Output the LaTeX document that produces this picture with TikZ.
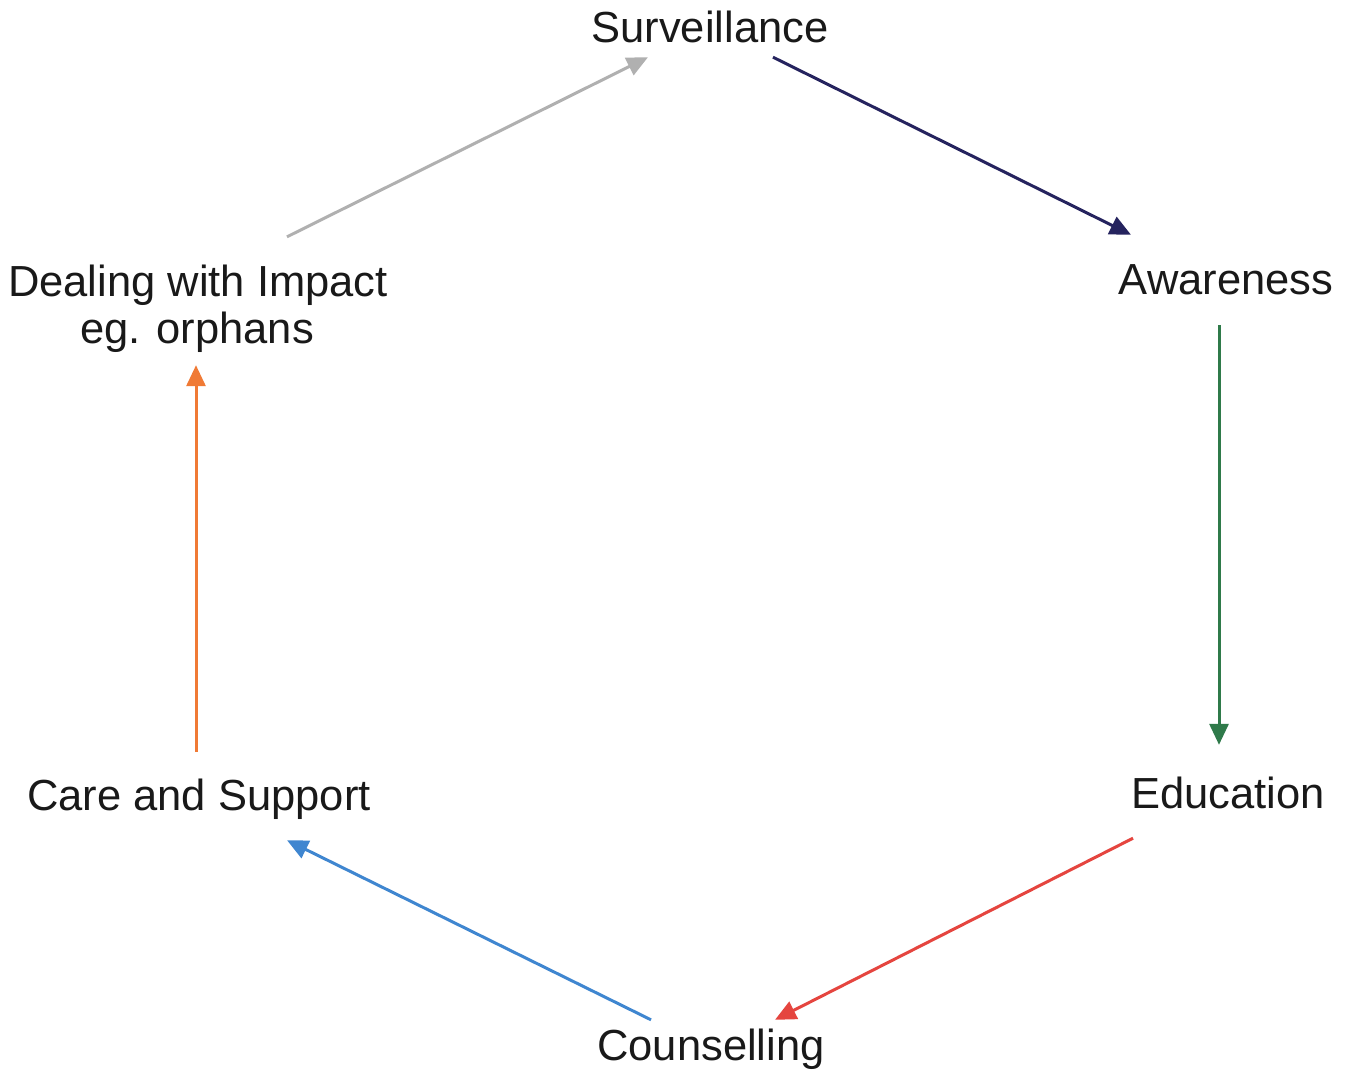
\documentclass[tikz,border=0pt]{standalone}
\usepackage{fontspec}
\setmainfont{Liberation Sans}
\usetikzlibrary{arrows.meta}
\definecolor{cgrey}{HTML}{B0B0B0}
\definecolor{cnavy}{HTML}{25235E}
\definecolor{cgreen}{HTML}{2F7A4A}
\definecolor{cred}{HTML}{E5453F}
\definecolor{cblue}{HTML}{3F86D0}
\definecolor{corange}{HTML}{F07A35}
\begin{document}
\begin{tikzpicture}[x=1pt,y=1pt,
  lbl/.style={inner sep=0pt, anchor=base, text height=31pt, text depth=9pt,
    font=\fontsize{43.5}{50}\selectfont, text=black!90},
  conn/.style={line width=3pt, -{Triangle[length=21pt,width=19pt]}}]
\useasboundingbox[fill=white] (0,-1071) rectangle (1352,0);
\node[lbl] (surv)  at (710,-42)   {Surveillance};
\node[lbl] (aware) at (1226,-294) {Awareness};
\node[lbl] (edu)   at (1228,-808) {Education};
\node[lbl] (couns) at (711,-1060) {Counselling};
\node[lbl] (care)  at (199,-810)  {Care and Support};
\node[lbl] (deal)  at (198,-296)  {Dealing with Impact};
\node[lbl] (orph)  at (197,-343)  {eg. orphans};
\draw[conn, cgrey]   ([shift={(89,28)}]deal.north)   -- ([shift={(-62,-6)}]surv.south);
\draw[conn, cnavy]   ([shift={(63,-6)}]surv.south)   -- ([shift={(-95,28)}]aware.north);
\draw[conn, cgreen]  ([shift={(-7,-22)}]aware.south) -- ([shift={(-9,32)}]edu.north);
\draw[conn, cred]    ([shift={(-95,-21)}]edu.south)  -- ([shift={(64,9)}]couns.north);
\draw[conn, cblue]   ([shift={(-60,9)}]couns.north)  -- ([shift={(88,-21)}]care.south);
\draw[conn, corange] ([shift={(-3,27)}]care.north)   -- ([shift={(-1,-13)}]orph.south);
\end{tikzpicture}
\end{document}
